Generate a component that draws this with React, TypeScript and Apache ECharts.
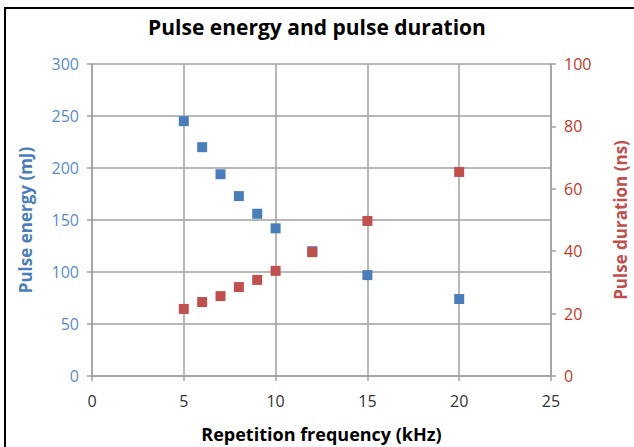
import React, { useEffect, useRef } from "react";
import * as echarts from "echarts";

const frequency = [5, 6, 7, 8, 9, 10, 12, 15, 20];
const pulseEnergy = [245, 220, 194, 173, 156, 142, 120, 97, 74];
const pulseDuration = [21.5, 23.7, 25.6, 28.5, 30.8, 33.7, 39.7, 49.7, 65.4];

const FONT = "'Open Sans', 'Liberation Sans', sans-serif";
const BLUE = "#4a7ebb";
const BLUE_LABEL = "#5b8ac6";
const RED = "#c0504d";
const RED_LABEL = "#c0392b";
const GRID = "#a0a0a0";

export default function App() {
  const ref = useRef<HTMLDivElement>(null);
  useEffect(() => {
    const chart = echarts.init(ref.current!, null, { renderer: "svg" });
    chart.setOption({
      animation: false,
      backgroundColor: "#fff",
      title: {
        text: "Pulse energy and pulse duration",
        left: "center",
        top: 11,
        textStyle: { fontFamily: FONT, fontSize: 21, fontWeight: "bold", color: "#000" },
      },
      graphic: [
        {
          type: "rect",
          shape: { x: 5, y: 8, width: 700, height: 500 },
          style: { fill: "none", stroke: "#000", lineWidth: 2 },
          silent: true,
        },
      ],
      grid: { left: 92, right: 83, top: 64, bottom: 71, containLabel: false, outerBoundsMode: "none" },
      xAxis: {
        type: "value",
        min: 0,
        max: 25,
        interval: 5,
        name: "Repetition frequency (kHz)",
        nameLocation: "middle",
        nameGap: 49,
        nameTextStyle: { fontFamily: FONT, fontSize: 18, fontWeight: "bold", color: "#000" },
        axisLine: { show: true, lineStyle: { color: GRID, width: 1.5 } },
        axisTick: { show: true, length: 5, lineStyle: { color: GRID, width: 1.5 } },
        axisLabel: { fontFamily: FONT, fontSize: 16, color: "#333", margin: 17 },
        splitLine: { show: true, lineStyle: { color: GRID, width: 1.5 } },
      },
      yAxis: [
        {
          type: "value",
          min: 0,
          max: 300,
          interval: 50,
          position: "left",
          name: "Pulse energy (mJ)",
          nameLocation: "middle",
          nameGap: 58,
          nameTextStyle: { fontFamily: FONT, fontSize: 17, fontWeight: "bold", color: BLUE },
          axisLine: { show: true, lineStyle: { color: GRID, width: 1.5 } },
          axisTick: { show: true, length: 5, lineStyle: { color: GRID, width: 1.5 } },
          axisLabel: { fontFamily: FONT, fontSize: 16, color: BLUE_LABEL, margin: 13 },
          splitLine: { show: true, lineStyle: { color: GRID, width: 1.5 } },
        },
        {
          type: "value",
          min: 0,
          max: 100,
          interval: 20,
          position: "right",
          name: "Pulse duration (ns)",
          nameLocation: "middle",
          nameGap: 61,
          nameRotate: 90,
          nameTextStyle: { fontFamily: FONT, fontSize: 17, fontWeight: "bold", color: RED },
          axisLine: { show: true, lineStyle: { color: GRID, width: 1.5 } },
          axisTick: { show: true, length: 5, lineStyle: { color: GRID, width: 1.5 } },
          axisLabel: { fontFamily: FONT, fontSize: 16, color: RED_LABEL, margin: 13 },
          splitLine: { show: false },
        },
      ],
      series: [
        {
          name: "Pulse energy",
          type: "scatter",
          yAxisIndex: 0,
          symbol: "rect",
          symbolSize: 10,
          itemStyle: { color: BLUE, opacity: 1 },
          data: frequency.map((f, i) => [f, pulseEnergy[i]]),
        },
        {
          name: "Pulse duration",
          type: "scatter",
          yAxisIndex: 1,
          symbol: "rect",
          symbolSize: 10,
          itemStyle: { color: RED, opacity: 1 },
          data: frequency.map((f, i) => [f, pulseDuration[i]]),
        },
      ],
    });
    return () => chart.dispose();
  }, []);
  return (
    <div
      ref={ref}
      style={{ position: "absolute", left: 0, top: 0, width: 634, height: 447 }}
    />
  );
}
